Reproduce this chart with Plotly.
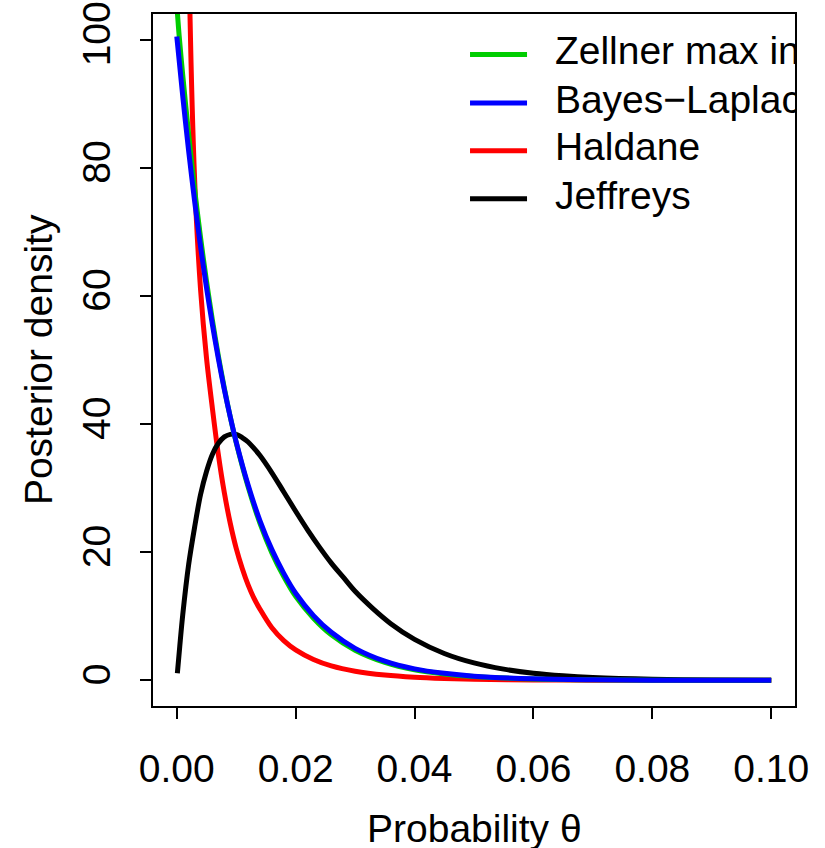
import plotly.graph_objects as go

# ---- data ----
theta_blue = [0, 0.001, 0.002, 0.003, 0.004, 0.005, 0.006, 0.007, 0.008, 0.009, 0.010,
              0.012, 0.014, 0.016, 0.018, 0.020, 0.023, 0.026, 0.030, 0.035, 0.040,
              0.045, 0.050, 0.060, 0.070, 0.080, 0.090, 0.100]
bayes_laplace = [100.5, 91.2, 82.6, 74.8, 67.7, 61.3, 55.5, 50.2, 45.4, 41.1, 37.2,
                 30.5, 24.9, 20.4, 16.7, 13.6, 10.1, 7.5, 5.0, 3.0, 1.8,
                 1.1, 0.66, 0.24, 0.09, 0.03, 0.01, 0.0]

theta_green = [0, 0.0004, 0.001, 0.002, 0.003, 0.004, 0.005, 0.006, 0.007, 0.008, 0.009, 0.010,
               0.012, 0.014, 0.016, 0.018, 0.020, 0.023, 0.026, 0.030, 0.035, 0.040,
               0.045, 0.050, 0.060, 0.070, 0.080, 0.090, 0.100]
zellner = [105.5, 100.6, 94.5, 85.2, 76.7, 69.1, 62.3, 56.2, 50.6, 45.6, 41.1, 37.1,
           30.2, 24.5, 19.9, 16.2, 13.1, 9.7, 7.1, 4.7, 2.8, 1.65,
           1.0, 0.6, 0.21, 0.08, 0.03, 0.01, 0.0]

theta_red = [0.001, 0.002, 0.003, 0.004, 0.005, 0.006, 0.007, 0.008, 0.009, 0.010, 0.011,
             0.012, 0.013, 0.014, 0.016, 0.018, 0.020, 0.023, 0.026, 0.030, 0.035,
             0.040, 0.045, 0.050, 0.060, 0.070, 0.080, 0.090, 0.100]
haldane = [228, 115, 78.2, 61.0, 50.3, 42.4, 35.2, 29.3, 24.5, 20.6, 17.5,
           14.9, 12.8, 11.1, 8.2, 6.2, 4.75, 3.25, 2.25, 1.43, 0.83,
           0.49, 0.3, 0.18, 0.07, 0.028, 0.011, 0.004, 0.0015]

theta_black = [0.0001, 0.0005, 0.001, 0.002, 0.003, 0.004, 0.005, 0.006, 0.007, 0.008, 0.009,
               0.010, 0.011, 0.012, 0.013, 0.014, 0.016, 0.018, 0.020, 0.022, 0.024,
               0.026, 0.028, 0.030, 0.033, 0.036, 0.040, 0.045, 0.050, 0.055, 0.060,
               0.065, 0.070, 0.080, 0.090, 0.100]
jeffreys = [1.1, 5.3, 10.2, 18.1, 23.9, 29.0, 32.6, 35.3, 37.0, 38.0, 38.4,
            38.4, 37.9, 37.2, 36.2, 35.1, 32.4, 29.4, 26.4, 23.5, 20.8,
            18.3, 16.1, 13.9, 11.2, 8.85, 6.4, 4.2, 2.72, 1.75, 1.11,
            0.71, 0.45, 0.18, 0.068, 0.026]

x_ticks = [0.00, 0.02, 0.04, 0.06, 0.08, 0.10]
y_ticks = [0, 20, 40, 60, 80, 100]

legend_labels = ["Zellner max info", "Bayes\u2212Laplace", "Haldane", "Jeffreys"]
legend_colors = ["#00CD00", "#0000FF", "#FF0000", "#000000"]

X_RANGE = [-0.004, 0.104]
Y_RANGE = [-4, 104]
FONT = "Liberation Sans, Arial, Helvetica, sans-serif"
FS = 39
LW = 5

fig = go.Figure()

def add_curve(x, y, color):
    fig.add_trace(go.Scatter(x=x, y=y, mode="lines",
                             line=dict(color=color, width=LW, shape="spline", smoothing=0.9),
                             showlegend=False, hoverinfo="skip"))

add_curve(theta_red, haldane, legend_colors[2])
add_curve(theta_black, jeffreys, legend_colors[3])
add_curve(theta_green, zellner, legend_colors[0])
add_curve(theta_blue, bayes_laplace, legend_colors[1])

# ---- in-plot legend (clipped to the plot region like the original) ----
def fx(f):
    return X_RANGE[0] + f * (X_RANGE[1] - X_RANGE[0])

def fy(f):
    return Y_RANGE[0] + f * (Y_RANGE[1] - Y_RANGE[0])

leg_line_x = [0.4938, 0.5826]
leg_text_x = 0.626
leg_rows = [0.9413, 0.8714, 0.8024, 0.7329]

for lab, col, ry in zip(legend_labels, legend_colors, leg_rows):
    fig.add_trace(go.Scatter(x=[fx(leg_line_x[0]), fx(leg_line_x[1])], y=[fy(ry), fy(ry)],
                             mode="lines", line=dict(color=col, width=LW),
                             showlegend=False, hoverinfo="skip"))
    fig.add_trace(go.Scatter(x=[fx(leg_text_x)], y=[fy(ry)], mode="text", text=[lab],
                             textposition="middle right", cliponaxis=True,
                             textfont=dict(family=FONT, size=FS, color="black"),
                             showlegend=False, hoverinfo="skip"))

fig.update_layout(
    width=825, height=848,
    margin=dict(l=153, r=30, t=14, b=142, pad=0),
    paper_bgcolor="white", plot_bgcolor="white",
    font=dict(family=FONT, size=FS, color="black"),
    xaxis=dict(range=X_RANGE, tickvals=x_ticks, ticktext=[f"{v:.2f}" for v in x_ticks],
               showgrid=False, zeroline=False, showline=True, mirror=True, automargin=False,
               linecolor="black", linewidth=2, ticks="outside", ticklen=11,
               tickwidth=2, tickcolor="black", ticklabelstandoff=16,
               ticklabeloverflow="allow",
               tickfont=dict(family=FONT, size=FS)),
    yaxis=dict(range=Y_RANGE, tickvals=y_ticks, ticktext=[str(v) for v in y_ticks],
               showgrid=False, zeroline=False, showline=True, mirror=True, automargin=False,
               linecolor="black", linewidth=2, ticks="outside", ticklen=11,
               tickwidth=2, tickcolor="black", tickangle=-90, ticklabelstandoff=14,
               ticklabeloverflow="allow",
               tickfont=dict(family=FONT, size=FS)),
    annotations=[
        dict(text="Probability \u03b8", xref="paper", yref="paper", x=0.5, y=-0.177,
             xanchor="center", yanchor="middle", showarrow=False,
             font=dict(family=FONT, size=FS)),
        dict(text="Posterior density", xref="paper", yref="paper", x=-0.179, y=0.5,
             xanchor="center", yanchor="middle", showarrow=False, textangle=-90,
             font=dict(family=FONT, size=FS)),
    ],
)

# remove the default page margin so the 825x848 figure fills the window exactly
fig.write_html("out.html",
               config={"displayModeBar": False, "staticPlot": True},
               post_script="document.body.style.margin='0px';"
                           "document.body.style.overflow='hidden';")
